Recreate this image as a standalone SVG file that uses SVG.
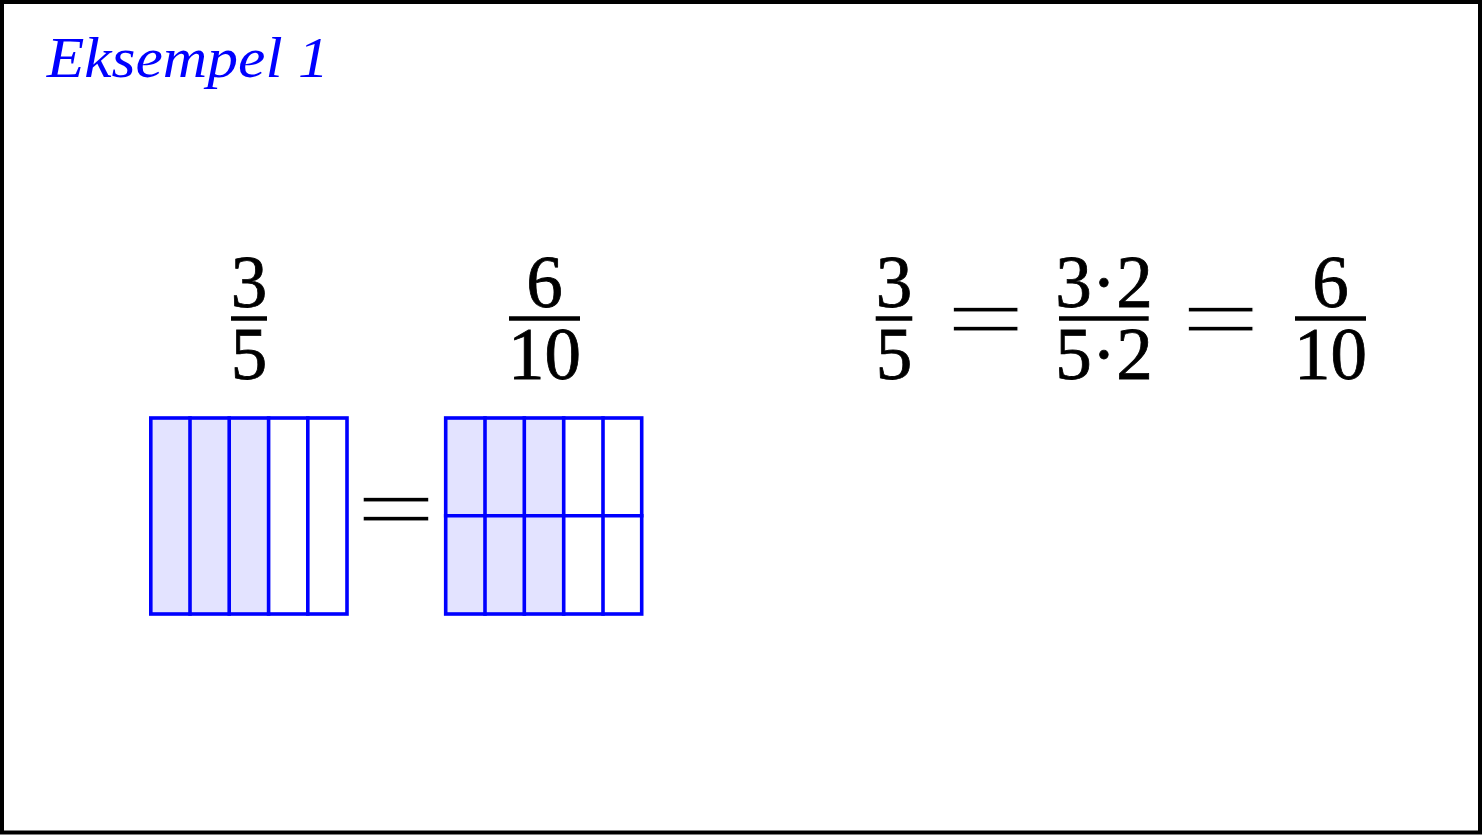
<svg xmlns="http://www.w3.org/2000/svg" width="1482" height="835" viewBox="0 0 1482 835">
<style>
.frame{fill:#ffffff;stroke:#000000;stroke-width:4}
.title{font-family:"Liberation Serif","DejaVu Serif",serif;font-style:italic;font-size:56px;fill:#0000ff}
.m{font-family:"Liberation Serif","DejaVu Serif",serif;font-size:73px;fill:#000000;stroke:#000000;stroke-width:0.8;text-anchor:middle}
.eq{font-family:"Liberation Serif","DejaVu Serif",serif;font-size:93.5px;fill:#000000;stroke:#ffffff;stroke-width:0.8}
.bar{stroke:#000000;stroke-width:4.5}
.shade{fill:#e3e3ff;stroke:none}
.grid{fill:none;stroke:#0000ff;stroke-width:3.6;stroke-linecap:square}
</style>
<rect class="frame" x="2" y="2" width="1478" height="830.5"/>
<g id="title"><text class="title" x="46.7" y="76.7" textLength="282" lengthAdjust="spacingAndGlyphs">Eksempel 1</text></g>
<g id="frac-left">
<text class="m" x="249" y="306.5">3</text>
<line class="bar" x1="231" y1="318.5" x2="267" y2="318.5"/>
<text class="m" x="249" y="378.5">5</text>
</g>
<g id="frac-right">
<text class="m" x="544.5" y="306.5">6</text>
<line class="bar" x1="509" y1="318.5" x2="580" y2="318.5"/>
<text class="m" x="544.5" y="378.5">10</text>
</g>
<g id="grid-left">
<rect class="shade" x="150.8" y="418" width="117.8" height="196"/>
<rect class="grid" x="150.8" y="418" width="196.2" height="196"/>
<path class="grid" d="M190 418V614M229.2 418V614M268.6 418V614M307.8 418V614"/>
</g>
<g id="eq-between"><text class="eq" transform="translate(355.9 540.2) scale(1.514 1)">=</text></g>
<g id="grid-right">
<rect class="shade" x="445.7" y="418" width="118" height="196"/>
<rect class="grid" x="445.7" y="418" width="196" height="196"/>
<path class="grid" d="M485 418V614M524.3 418V614M563.7 418V614M603 418V614M445.7 515.8H641.7"/>
</g>
<g id="equation">
<text class="m" x="894" y="306.5">3</text>
<line class="bar" x1="875.7" y1="318.5" x2="912.3" y2="318.5"/>
<text class="m" x="894" y="378.5">5</text>
<text class="eq" transform="translate(946.3 349.7) scale(1.491 1)">=</text>
<text class="m" x="1104" y="306.5">3·2</text>
<line class="bar" x1="1059" y1="318.5" x2="1148.7" y2="318.5"/>
<text class="m" x="1104" y="378.5">5·2</text>
<text class="eq" transform="translate(1181.3 349.7) scale(1.491 1)">=</text>
<text class="m" x="1330.5" y="306.5">6</text>
<line class="bar" x1="1295" y1="318.5" x2="1366" y2="318.5"/>
<text class="m" x="1330.5" y="378.5">10</text>
</g>
<g id="connectors"/>
</svg>
